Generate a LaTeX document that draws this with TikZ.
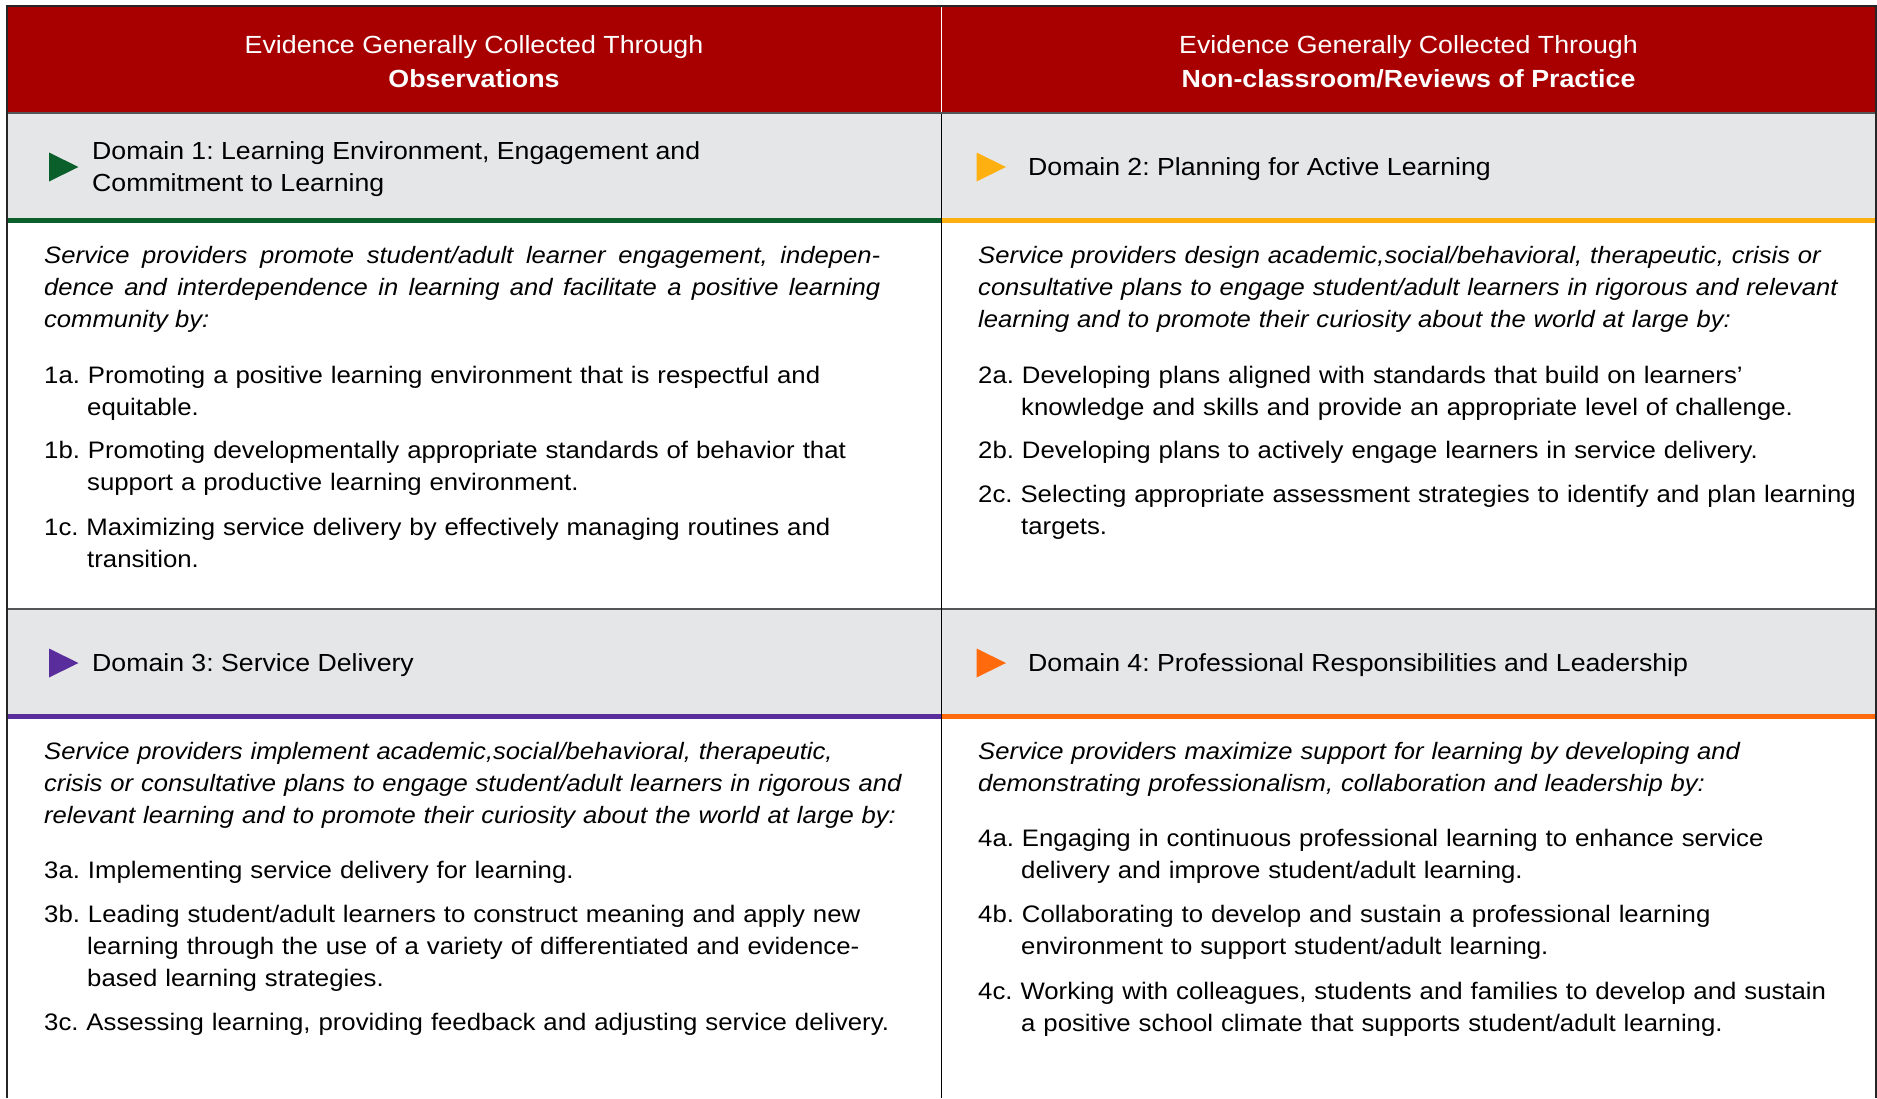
\documentclass[tikz,border=0pt]{standalone}
\usepackage{fontspec}
\setmainfont{Liberation Sans}[FakeStretch=1.08]
\definecolor{hdrred}{HTML}{A80000}
\definecolor{bandgrey}{HTML}{E5E6E8}
\definecolor{dgreen}{HTML}{0B5F2A}
\definecolor{dgold}{HTML}{FDB00F}
\definecolor{dpurple}{HTML}{5A2D9C}
\definecolor{dorange}{HTML}{FF6A0D}
\definecolor{rulegrey}{HTML}{555555}
\newcommand\hng[2]{\hangindent=43pt\relax\hangafter=1\relax #1 #2\par}
\frenchspacing
\hyphenpenalty=10000\relax
\begin{document}
\begin{tikzpicture}[x=1pt,y=-1pt,
  bodytxt/.style={anchor=base west, inner sep=0pt, text width=900pt, align=left,
    font=\fontsize{23.85}{32}\selectfont},
  itpara/.style={bodytxt, font=\fontsize{23.7}{32}\selectfont\itshape},
  domtitle/.style={anchor=west, inner sep=0pt, align=left, font=\fontsize{24.7}{32}\selectfont},
  hdrtxt/.style={inner sep=0pt, align=center, text=white, font=\fontsize{24.8}{34}\selectfont}
]
\useasboundingbox (0,0) rectangle (1877,1098);
% header
\fill[hdrred] (7,6) rectangle (1876,113);
% grey bands
\fill[bandgrey] (7,113) rectangle (1876,218);
\fill[bandgrey] (7,609) rectangle (1876,714);
% coloured rules
\fill[dgreen] (7,218) rectangle (941,223);
\fill[dgold] (941,218) rectangle (1876,223);
\fill[dpurple] (7,714) rectangle (941,719);
\fill[dorange] (941,714) rectangle (1876,719);
% grey rules
\draw[rulegrey, line width=2pt] (7,113) -- (1876,113);
\draw[rulegrey, line width=2pt] (7,609) -- (1876,609);
% column divider
\draw[white, line width=1pt] (941.5,6) -- (941.5,112);
\draw[black, line width=1.3pt] (941.5,114) -- (941.5,1098);
% outer border
\draw[black!85, line width=1.5pt] (7,1098) -- (7,6) -- (1876,6) -- (1876,1098);

% header text
\node[hdrtxt] (h1) at (474,61.5) {Evidence Generally Collected Through\\\textbf{Observations}};
\node[hdrtxt] (h2) at (1408.5,61.5) {Evidence Generally Collected Through\\\textbf{Non-classroom/Reviews of Practice}};

% triangles
\fill[dgreen] (49,152.5) -- (78.5,167) -- (49,181.5) -- cycle;
\fill[dgold] (976.5,152.5) -- (1006,167) -- (976.5,181.5) -- cycle;
\fill[dpurple] (49,648.5) -- (78.5,663) -- (49,677.5) -- cycle;
\fill[dorange] (976.5,648.5) -- (1006,663) -- (976.5,677.5) -- cycle;

% domain titles
\node[domtitle] (d1) at (92,169) {Domain 1: Learning Environment, Engagement and\\Commitment to Learning};
\node[domtitle] (d2) at (1028,169.5) {Domain 2: Planning for Active Learning};
\node[domtitle] (d3) at (92,665.5) {Domain 3: Service Delivery};
\node[domtitle] (d4) at (1028,665.5) {Domain 4: Professional Responsibilities and Leadership};

% cell 1
\node[itpara, text width=836pt, align=justify] (p1) at (44,263.5) {Service providers promote student/adult learner engagement, indepen-\linebreak dence and interdependence in learning and facilitate a positive learning\linebreak community by:\par};
\node[bodytxt] (i1a) at (44,383.5) {\hng{1a.}{Promoting a positive learning environment that is respectful and\newline equitable.}};
\node[bodytxt] (i1b) at (44,458.5) {\hng{1b.}{Promoting developmentally appropriate standards of behavior that\newline support a productive learning environment.}};
\node[bodytxt] (i1c) at (44,535.5) {\hng{1c.}{Maximizing service delivery by effectively managing routines and\newline transition.}};

% cell 2
\node[itpara] (p2) at (978,263.5) {Service providers design academic,social/behavioral, therapeutic, crisis or\newline consultative plans to engage student/adult learners in rigorous and relevant\newline learning and to promote their curiosity about the world at large by:};
\node[bodytxt] (i2a) at (978,383.5) {\hng{2a.}{Developing plans aligned with standards that build on learners’\newline knowledge and skills and provide an appropriate level of challenge.}};
\node[bodytxt] (i2b) at (978,458.5) {\hng{2b.}{Developing plans to actively engage learners in service delivery.}};
\node[bodytxt] (i2c) at (978,502.5) {\hng{2c.}{Selecting appropriate assessment strategies to identify and plan learning\newline targets.}};

% cell 3
\node[itpara] (p3) at (44,759.5) {Service providers implement academic,social/behavioral, therapeutic,\newline crisis or consultative plans to engage student/adult learners in rigorous and\newline relevant learning and to promote their curiosity about the world at large by:};
\node[bodytxt] (i3a) at (44,878.5) {\hng{3a.}{Implementing service delivery for learning.}};
\node[bodytxt] (i3b) at (44,922.5) {\hng{3b.}{Leading student/adult learners to construct meaning and apply new\newline learning through the use of a variety of differentiated and evidence-\newline based learning strategies.}};
\node[bodytxt] (i3c) at (44,1030.5) {\hng{3c.}{Assessing learning, providing feedback and adjusting service delivery.}};

% cell 4
\node[itpara] (p4) at (978,759.5) {Service providers maximize support for learning by developing and\newline demonstrating professionalism, collaboration and leadership by:};
\node[bodytxt] (i4a) at (978,846.5) {\hng{4a.}{Engaging in continuous professional learning to enhance service\newline delivery and improve student/adult learning.}};
\node[bodytxt] (i4b) at (978,922.5) {\hng{4b.}{Collaborating to develop and sustain a professional learning\newline environment to support student/adult learning.}};
\node[bodytxt] (i4c) at (978,999.5) {\hng{4c.}{Working with colleagues, students and families to develop and sustain\newline a positive school climate that supports student/adult learning.}};
\end{tikzpicture}
\end{document}
